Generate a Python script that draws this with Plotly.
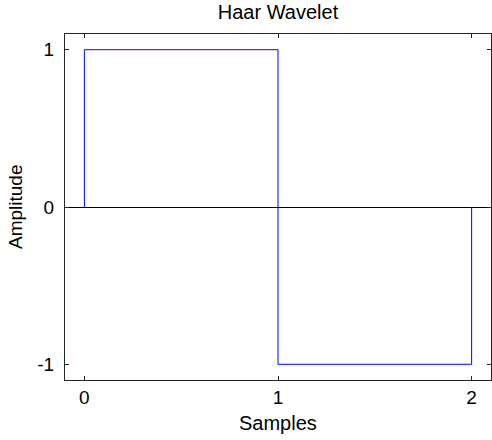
import plotly.graph_objects as go

# Haar wavelet step outline
samples = [0, 0, 1, 1, 2, 2]
amplitude = [0, 1, 1, -1, -1, 0]

x_ticks = [0, 1, 2]
y_ticks = [-1, 0, 1]
y_tick_labels = ["-1", "0", "1"]

FONT = "Liberation Sans, Arial, sans-serif"
FS = 20

W, H = 492, 440
ML, MR, MT, MB = 65, 1, 34, 60
PW, PH = W - ML - MR, H - MT - MB

fig = go.Figure()
fig.add_trace(go.Scatter(
    x=samples, y=amplitude, mode="lines",
    line=dict(color="#0000FF", width=1),
    hoverinfo="skip", showlegend=False,
))

axis_common = dict(
    showgrid=False, automargin=False,
    showline=True, linecolor="#262626", linewidth=1,
    mirror="ticks",
    ticks="inside", ticklen=4, tickcolor="#262626", tickwidth=1,
    tickfont=dict(family=FONT, size=19, color="#000000"),
)

fig.update_layout(
    width=W, height=H,
    margin=dict(l=ML, r=MR, t=MT, b=MB, autoexpand=False),
    paper_bgcolor="white", plot_bgcolor="white",
    title=dict(text="Haar Wavelet", x=0.5, xref="paper",
               y=1 - 12 / H, yref="container", yanchor="middle",
               xanchor="center", automargin=False,
               font=dict(family=FONT, size=FS, color="#000000")),
    xaxis=dict(range=[-0.1, 2.1], tickvals=x_ticks, zeroline=False,
               ticklabelstandoff=0, **axis_common),
    yaxis=dict(range=[-1.1, 1.1], tickvals=y_ticks, ticktext=y_tick_labels,
               zeroline=True, zerolinecolor="#000000", zerolinewidth=1,
               ticklabelstandoff=6, **axis_common),
    annotations=[
        dict(text="Samples", xref="paper", yref="paper",
             x=0.5, y=-(423 - (H - MB)) / PH, xanchor="center", yanchor="middle",
             showarrow=False, font=dict(family=FONT, size=FS, color="#000000")),
        dict(text="Amplitude", xref="paper", yref="paper", textangle=-90,
             x=-(ML - 15) / PW, y=0.5, xanchor="center", yanchor="middle",
             showarrow=False, font=dict(family=FONT, size=19, color="#000000")),
    ],
)

fig.write_html("out.html", config={"displayModeBar": False, "staticPlot": True},
               post_script="document.body.style.margin='0px';")
